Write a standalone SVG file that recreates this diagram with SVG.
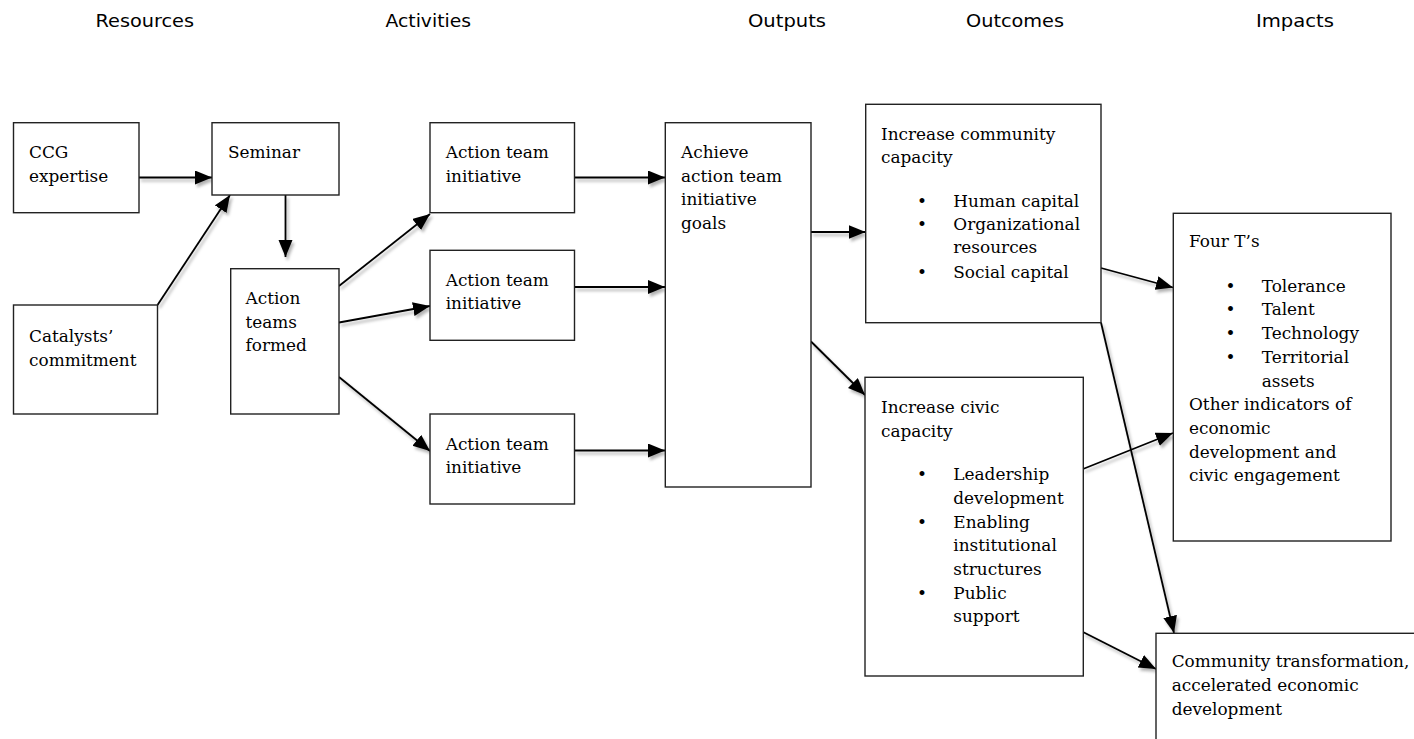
<svg xmlns="http://www.w3.org/2000/svg" width="1414" height="739" viewBox="0 0 1414 739">
  <style>
    .hdr { font-family: "DejaVu Sans", Verdana, sans-serif; font-size: 18.5px; fill: #000; }
    .txt { font-family: "DejaVu Serif", "Liberation Serif", serif; font-size: 16.9px; fill: #000; }
    .box { fill: #fff; stroke: #222; stroke-width: 1.4; }
    .conn { fill: none; stroke: #000; stroke-width: 1.8; marker-end: url(#arrow); }
  </style>
  <defs>
    <marker id="arrow" markerUnits="userSpaceOnUse" markerWidth="18" markerHeight="16" refX="17" refY="7" orient="auto">
      <path d="M0,0 L17,7 L0,14 z" fill="#000"/>
    </marker>
    <filter id="shade" x="-20%" y="-20%" width="140%" height="140%">
      <feDropShadow dx="2" dy="3" stdDeviation="1.8" flood-color="#000" flood-opacity="0.3"/>
    </filter>
  </defs>
  <rect width="1414" height="739" fill="#fff"/>

  <!-- column headings -->
  <g id="headings">
    <text class="hdr" x="95.5" y="27.3" textLength="98.5" lengthAdjust="spacingAndGlyphs">Resources</text>
    <text class="hdr" x="385.5" y="27.3" textLength="85.5" lengthAdjust="spacingAndGlyphs">Activities</text>
    <text class="hdr" x="748" y="27.3" textLength="78" lengthAdjust="spacingAndGlyphs">Outputs</text>
    <text class="hdr" x="966" y="27.3" textLength="98" lengthAdjust="spacingAndGlyphs">Outcomes</text>
    <text class="hdr" x="1256" y="27.3" textLength="78" lengthAdjust="spacingAndGlyphs">Impacts</text>
  </g>

  <!-- connectors -->
  <g id="connectors" filter="url(#shade)">
    <path class="conn" d="M139,177.5 L212,177.5"/>
    <path class="conn" d="M157.5,305 L230,195"/>
    <path class="conn" d="M285.5,195 L285.5,257"/>
    <path class="conn" d="M339,286 L430,214"/>
    <path class="conn" d="M339,322.5 L430,306"/>
    <path class="conn" d="M339,377 L430,451"/>
    <path class="conn" d="M574.5,177.5 L665,177.5"/>
    <path class="conn" d="M574.5,287 L665,287"/>
    <path class="conn" d="M574.5,450.5 L665,450.5"/>
    <path class="conn" d="M811,232 L865.5,232"/>
    <path class="conn" d="M811,341.5 L865,395"/>
    <path class="conn" d="M1101,268 L1173,287.5"/>
    <path class="conn" d="M1101,322.5 L1174,633"/>
    <path class="conn" d="M1083,469 L1173,433"/>
    <path class="conn" d="M1083,632 L1156,669"/>
  </g>

  <g id="ccg-expertise">
    <rect class="box" x="13.5" y="122.7" width="125.5" height="90"/>
    <text class="txt" x="29" y="158.3">CCG</text>
    <text class="txt" x="29" y="181.5">expertise</text>
  </g>

  <g id="catalysts-commitment">
    <rect class="box" x="13.5" y="305" width="144" height="109"/>
    <text class="txt" x="29" y="342">Catalysts’</text>
    <text class="txt" x="29" y="365.5">commitment</text>
  </g>

  <g id="seminar">
    <rect class="box" x="212" y="122.7" width="127" height="72.3"/>
    <text class="txt" x="228" y="158.3">Seminar</text>
  </g>

  <g id="action-teams-formed">
    <rect class="box" x="230.7" y="268.7" width="108.3" height="145.3"/>
    <text class="txt" x="245.5" y="304">Action</text>
    <text class="txt" x="245.5" y="327.5">teams</text>
    <text class="txt" x="245.5" y="351">formed</text>
  </g>

  <g id="initiative-1">
    <rect class="box" x="430" y="122.7" width="144.5" height="90"/>
    <text class="txt" x="445.7" y="158.3">Action team</text>
    <text class="txt" x="445.7" y="181.5">initiative</text>
  </g>

  <g id="initiative-2">
    <rect class="box" x="430" y="250.3" width="144.5" height="90"/>
    <text class="txt" x="445.7" y="285.7">Action team</text>
    <text class="txt" x="445.7" y="309">initiative</text>
  </g>

  <g id="initiative-3">
    <rect class="box" x="430" y="414" width="144.5" height="90"/>
    <text class="txt" x="445.7" y="449.7">Action team</text>
    <text class="txt" x="445.7" y="473.3">initiative</text>
  </g>

  <g id="achieve-goals">
    <rect class="box" x="665.3" y="122.7" width="145.7" height="364.3"/>
    <text class="txt" x="681" y="158.3">Achieve</text>
    <text class="txt" x="681" y="181.5">action team</text>
    <text class="txt" x="681" y="205">initiative</text>
    <text class="txt" x="681" y="228.5">goals</text>
  </g>

  <g id="community-capacity">
    <rect class="box" x="865.7" y="104.3" width="235.3" height="218.4"/>
    <text class="txt" x="881" y="140">Increase community</text>
    <text class="txt" x="881" y="163.3">capacity</text>
    <text class="txt" x="917" y="206.7">•</text>
    <text class="txt" x="953.3" y="206.7">Human capital</text>
    <text class="txt" x="917" y="230">•</text>
    <text class="txt" x="953.3" y="230">Organizational</text>
    <text class="txt" x="953.3" y="253.3">resources</text>
    <text class="txt" x="917" y="277.5">•</text>
    <text class="txt" x="953.3" y="277.5">Social capital</text>
  </g>

  <g id="civic-capacity">
    <rect class="box" x="865" y="377.3" width="218.3" height="298.7"/>
    <text class="txt" x="881" y="413.3">Increase civic</text>
    <text class="txt" x="881" y="436.5">capacity</text>
    <text class="txt" x="917" y="480">•</text>
    <text class="txt" x="953.3" y="480">Leadership</text>
    <text class="txt" x="953.3" y="503.5">development</text>
    <text class="txt" x="917" y="527.5">•</text>
    <text class="txt" x="953.3" y="527.5">Enabling</text>
    <text class="txt" x="953.3" y="551">institutional</text>
    <text class="txt" x="953.3" y="574.5">structures</text>
    <text class="txt" x="917" y="598.5">•</text>
    <text class="txt" x="953.3" y="598.5">Public</text>
    <text class="txt" x="953.3" y="622">support</text>
  </g>

  <g id="four-ts">
    <rect class="box" x="1173.3" y="213.3" width="217.7" height="327.7"/>
    <text class="txt" x="1189" y="246.7">Four T’s</text>
    <text class="txt" x="1225.5" y="291.5">•</text>
    <text class="txt" x="1261.7" y="291.5">Tolerance</text>
    <text class="txt" x="1225.5" y="315">•</text>
    <text class="txt" x="1261.7" y="315">Talent</text>
    <text class="txt" x="1225.5" y="339">•</text>
    <text class="txt" x="1261.7" y="339">Technology</text>
    <text class="txt" x="1225.5" y="363">•</text>
    <text class="txt" x="1261.7" y="363">Territorial</text>
    <text class="txt" x="1261.7" y="386.5">assets</text>
    <text class="txt" x="1189" y="410">Other indicators of</text>
    <text class="txt" x="1189" y="433.5">economic</text>
    <text class="txt" x="1189" y="457.5">development and</text>
    <text class="txt" x="1189" y="481">civic engagement</text>
  </g>

  <g id="community-transformation">
    <rect class="box" x="1156" y="633.3" width="300" height="160"/>
    <text class="txt" x="1171.7" y="666.7">Community transformation,</text>
    <text class="txt" x="1171.7" y="690.5">accelerated economic</text>
    <text class="txt" x="1171.7" y="714.5">development</text>
  </g>
</svg>
